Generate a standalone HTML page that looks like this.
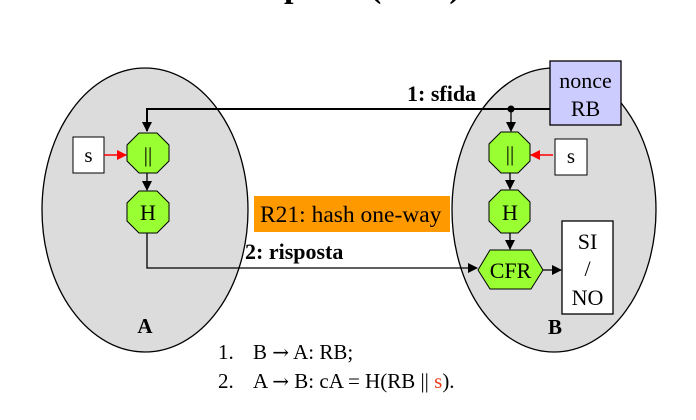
<!DOCTYPE html>
<html><head><style>
body{margin:0;width:696px;height:420px;background:#fff;overflow:hidden}
svg{display:block}
text{font-family:"Liberation Serif",serif}
</style></head><body>
<svg width="696" height="420" viewBox="0 0 696 420">
<defs>
<marker id="ak" markerWidth="10" markerHeight="10" refX="9" refY="5" orient="auto" markerUnits="userSpaceOnUse"><path d="M0,0 L10,5 L0,10 z" fill="#000"/></marker>
<marker id="ar" markerWidth="10" markerHeight="10" refX="9" refY="5" orient="auto" markerUnits="userSpaceOnUse"><path d="M0,0 L10,5 L0,10 z" fill="#f00"/></marker>
</defs>
<text x="310" y="-3" font-size="34" font-weight="bold" text-anchor="middle">Sfida-risposta (hash)</text>
<ellipse cx="145" cy="210" rx="103" ry="142" fill="#dcdcdc" stroke="#000" stroke-width="1.3"/>
<ellipse cx="554" cy="210" rx="102" ry="142" fill="#dcdcdc" stroke="#000" stroke-width="1.3"/>
<rect x="550" y="61" width="71" height="64" fill="#ccccff" stroke="#000" stroke-width="1.3"/>
<text x="585.5" y="88" font-size="22" text-anchor="middle">nonce</text>
<text x="585.5" y="116" font-size="22" text-anchor="middle">RB</text>
<text x="407" y="101" font-size="22" font-weight="bold">1: sfida</text>
<polyline points="550,109 147,109 147,131" fill="none" stroke="#000" stroke-width="2" marker-end="url(#ak)"/>
<circle cx="511" cy="109" r="3.5" fill="#000"/>
<line x1="511" y1="109" x2="511" y2="131" stroke="#000" stroke-width="1.3" marker-end="url(#ak)"/>
<!-- left -->
<rect x="73" y="137" width="31" height="36" fill="#fff" stroke="#000"/>
<text x="88.5" y="162" font-size="21" text-anchor="middle">s</text>
<line x1="104" y1="155" x2="126" y2="155" stroke="#f00" stroke-width="1.5" marker-end="url(#ar)"/>
<polygon points="139,133 157,133 169,145 169,161 157,173 139,173 127,161 127,145" fill="#99ff33" stroke="#000"/>
<text x="148" y="162" font-size="21" text-anchor="middle">||</text>
<line x1="147" y1="173" x2="147" y2="190" stroke="#000" stroke-width="1.3" marker-end="url(#ak)"/>
<polygon points="139,191 157,191 169,203 169,221 157,233 139,233 127,221 127,203" fill="#99ff33" stroke="#000"/>
<text x="148" y="220" font-size="22" text-anchor="middle">H</text>
<polyline points="147,233 147,268 477,268" fill="none" stroke="#000" stroke-width="1.3" marker-end="url(#ak)"/>
<text x="245" y="259" font-size="22" font-weight="bold">2: risposta</text>
<rect x="254" y="196" width="196" height="36" fill="#ff9900"/>
<text x="260" y="222" font-size="23.5">R21: hash one-way</text>
<text x="145" y="333" font-size="21" font-weight="bold" text-anchor="middle">A</text>
<!-- right -->
<rect x="555" y="139" width="32" height="36" fill="#fff" stroke="#000"/>
<text x="571" y="163" font-size="21" text-anchor="middle">s</text>
<line x1="553" y1="155" x2="531" y2="155" stroke="#f00" stroke-width="1.5" marker-end="url(#ar)"/>
<polygon points="501,132 518,132 530,144 530,161 518,173 501,173 489,161 489,144" fill="#99ff33" stroke="#000"/>
<text x="510" y="161" font-size="21" text-anchor="middle">||</text>
<line x1="510" y1="173" x2="510" y2="189" stroke="#000" stroke-width="1.3" marker-end="url(#ak)"/>
<polygon points="501,190 518,190 530,202 530,221 518,233 501,233 489,221 489,202" fill="#99ff33" stroke="#000"/>
<text x="510" y="220" font-size="22" text-anchor="middle">H</text>
<line x1="510" y1="233" x2="510" y2="249" stroke="#000" stroke-width="1.3" marker-end="url(#ak)"/>
<polygon points="478,270 490,250 531,250 543,270 531,289 490,289" fill="#99ff33" stroke="#000"/>
<text x="510.5" y="278" font-size="22" text-anchor="middle">CFR</text>
<line x1="543" y1="270" x2="561" y2="270" stroke="#000" stroke-width="1.3" marker-end="url(#ak)"/>
<rect x="562" y="221" width="51" height="93" fill="#fff" stroke="#000" stroke-width="1.3"/>
<text x="587.5" y="249" font-size="22" text-anchor="middle">SI</text>
<text x="587.5" y="276" font-size="22" text-anchor="middle">/</text>
<text x="587.5" y="305" font-size="22" text-anchor="middle">NO</text>
<text x="555" y="334" font-size="21" font-weight="bold" text-anchor="middle">B</text>
<text x="218" y="359" font-size="21">1.</text>
<text x="253" y="359" font-size="21">B <tspan font-family="DejaVu Serif" font-size="20">→</tspan> A: RB;</text>
<text x="218" y="388" font-size="21">2.</text>
<text x="253" y="388" font-size="21">A <tspan font-family="DejaVu Serif" font-size="20">→</tspan> B: cA  = H(RB || <tspan fill="#e8401c">s</tspan>).</text>
</svg>
</body></html>
